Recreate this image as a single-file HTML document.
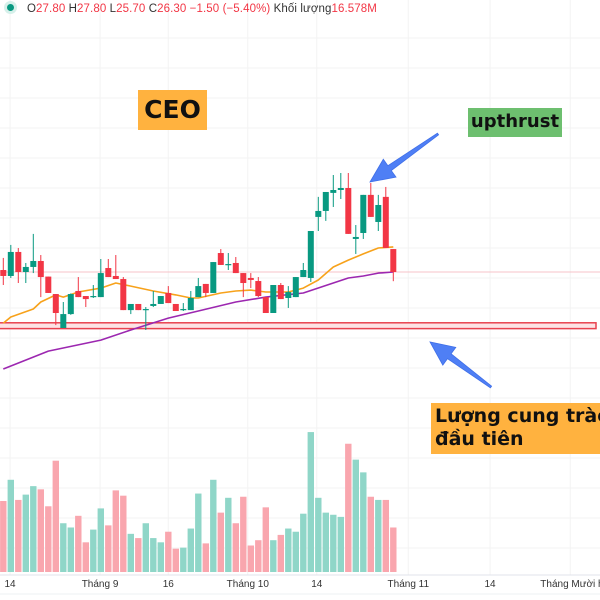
<!DOCTYPE html>
<html><head><meta charset="utf-8">
<style>
html,body{margin:0;padding:0;background:#fff;}
#wrap{position:relative;width:600px;height:600px;overflow:hidden;font-family:"Liberation Sans","DejaVu Sans",sans-serif;}
.lbl{position:absolute;font-weight:bold;color:#111;font-family:"DejaVu Sans","Liberation Sans",sans-serif;}
</style></head>
<body>
<div id="wrap">
<svg id="chart" width="600" height="600"></svg>
<div style="position:absolute;left:7px;top:3px;font-size:11.5px;white-space:nowrap;letter-spacing:0.1px;">
<span style="display:inline-block;width:7px;height:7px;border-radius:50%;background:#089981;box-shadow:0 0 0 3px #d6f0ea;margin-right:13px;vertical-align:1px"></span><span style="color:#333">O</span><span style="color:#f23645">27.80</span> <span style="color:#333">H</span><span style="color:#f23645">27.80</span> <span style="color:#333">L</span><span style="color:#f23645">25.70</span> <span style="color:#333">C</span><span style="color:#f23645">26.30</span> <span style="color:#f23645">−1.50 (−5.40%)</span> <span style="color:#333">Khối lượng</span><span style="color:#f23645">16.578M</span>
</div>
<div class="lbl" style="left:138px;top:90px;width:69px;height:40px;background:#ffb23f;font-size:25px;line-height:40px;text-align:center;">CEO</div>
<div class="lbl" style="left:468px;top:108px;width:94px;height:29px;background:#6dbf6f;font-size:18px;line-height:28px;text-align:center;">upthrust</div>
<div class="lbl" style="left:431px;top:403px;width:169px;height:51px;background:#ffb23f;font-size:19px;line-height:23px;padding:2px 0 0 4px;box-sizing:border-box;white-space:nowrap;">Lượng cung tràc<br>đầu tiên</div>
</div>
<script>
const opens =  [26.43,26.04,27.61,26.30,26.63,27.02,26.00,24.86,22.64,23.55,25.06,24.73,24.66,24.66,26.56,26.04,25.84,23.81,24.21,23.81,24.08,24.21,24.93,24.21,23.81,23.81,24.66,25.52,24.93,27.54,26.76,26.89,26.23,25.91,25.71,24.66,23.62,25.45,24.60,24.66,25.97,25.91,29.90,30.29,31.47,31.66,31.79,28.46,28.85,31.34,29.57,31.21,27.80];
const highs =  [27.22,28.07,27.87,26.89,28.79,27.41,26.00,24.86,24.34,24.90,25.97,24.73,25.45,27.15,27.15,27.41,25.97,24.21,24.21,24.01,25.06,24.73,25.38,24.21,24.27,25.06,25.91,25.52,26.95,27.80,27.54,27.28,26.23,26.23,25.97,24.66,25.45,25.58,25.38,25.97,26.89,28.98,31.21,31.53,32.64,32.77,32.77,29.37,31.34,32.12,31.34,31.86,27.80];
const lows =   [25.45,25.91,25.58,25.58,26.23,24.66,24.93,22.83,22.64,23.50,24.66,24.01,24.60,24.66,25.97,25.84,23.81,23.55,23.81,22.51,24.01,24.21,24.27,23.75,23.75,23.81,24.66,24.66,24.93,26.76,26.43,26.23,24.66,25.25,24.66,23.62,23.62,24.53,23.95,24.66,25.97,25.65,28.98,29.64,30.55,31.07,28.79,27.48,28.46,29.90,28.98,27.87,25.70];
const closes = [26.04,27.61,26.30,26.63,27.02,25.97,24.93,23.62,23.55,24.86,24.66,24.53,24.73,26.23,25.97,25.84,23.81,24.21,23.81,23.88,24.21,24.73,24.27,23.75,23.88,24.60,25.38,24.93,26.95,26.76,26.82,26.23,25.58,25.78,24.73,23.62,25.45,24.53,24.99,25.97,26.43,28.98,30.29,31.53,31.66,31.79,28.79,28.59,31.34,29.90,30.68,27.87,26.30];
const volumes = [6.7,8.7,6.8,7.3,8.1,7.8,6.2,10.5,4.6,4.2,5.3,2.8,4.0,6.0,4.4,7.7,7.2,3.6,3.2,4.6,3.2,2.8,3.8,2.2,2.3,4.1,7.4,2.7,8.7,5.6,7.0,4.6,7.1,2.5,3.0,6.1,3.0,3.5,4.1,3.8,5.5,13.2,7.0,5.6,5.4,5.2,12.1,10.6,9.4,7.1,6.8,6.8,4.2];
const maFastIdx = [0,1,4,5,7,8,10,13,15,17,20,23,25,26,29,31,33,35,38,40,42,44,46,48,50,52];
const maFastVal = [22.96,23.36,23.88,24.34,24.80,24.66,24.99,25.25,25.58,25.38,25.06,24.80,24.60,24.60,24.93,25.06,25.12,24.99,24.99,25.25,25.78,26.63,27.08,27.48,27.87,27.94];
const maSlowIdx = [0,6,13,17,22,26,31,35,40,44,46,48,50,52];
const maSlowVal = [19.96,21.13,21.85,22.51,23.29,23.75,24.34,24.66,24.93,25.58,25.91,26.04,26.23,26.30];
const supplyZone = [22.60, 22.98];
const xTickLabels = ["14","Tháng 9","16","Tháng 10","14","Tháng 11","14","Tháng Mười ha"];
const xTickPos = [0.9,12.9,22,32.6,41.8,54,64.9,75.6];
const GREEN="#089981", RED="#f23645", VGREEN="#8fd6c8", VRED="#f9a6ae";
const svg=document.getElementById('chart');
const NS="http://www.w3.org/2000/svg";
function xOf(i){return 3.3+i*7.5;}
function yOf(p){return 272-(p-26.3)*15.3;}
const VOL_BASE=572, VOL_SCALE=10.6;
function yVol(v){return VOL_BASE-v*VOL_SCALE;}
function mk(tag,attrs){const e=document.createElementNS(NS,tag);for(const k in attrs)e.setAttribute(k,attrs[k]);svg.appendChild(e);return e;}
for(let y=38;y<572;y+=30){const g=mk('line',{x1:0,x2:600,y1:y,y2:y,stroke:'#f3f3f3','stroke-width':1});

}
xTickPos.forEach(t=>{const g=mk('line',{x1:xOf(t),x2:xOf(t),y1:0,y2:575,stroke:'#f3f3f3','stroke-width':1});

});
volumes.forEach((v,i)=>{const up=closes[i]>=opens[i];const r=mk('rect',{x:xOf(i)-3.2,y:yVol(v),width:6.4,height:v*VOL_SCALE,fill:up?VGREEN:VRED});

});
const sz=mk('rect',{x:-1,y:yOf(supplyZone[1]),width:597,height:yOf(supplyZone[0])-yOf(supplyZone[1]),fill:'#fde3e5',stroke:'#e8424f','stroke-width':1.5});


const lp=mk('line',{x1:0,x2:600,y1:yOf(closes[closes.length-1]),y2:yOf(closes[closes.length-1]),stroke:'#f7c3c8','stroke-width':1});


function maPath(idx,val,color,name){const d=idx.map((t,k)=>(k?'L':'M')+xOf(t).toFixed(1)+','+yOf(val[k]).toFixed(1)).join(' ');
const p=mk('path',{d:d,fill:'none',stroke:color,'stroke-width':1.6,'stroke-linejoin':'round'});

}
maPath(maSlowIdx,maSlowVal,'#9c27b0','ma-slow-line');
maPath(maFastIdx,maFastVal,'#f7a21b','ma-fast-line');
opens.forEach((o,i)=>{const c=closes[i];const up=c>=o;const col=up?GREEN:RED;const x=xOf(i);
const w=mk('line',{x1:x,x2:x,y1:yOf(highs[i]),y2:yOf(lows[i]),stroke:col,'stroke-width':1});


const top=yOf(Math.max(o,c)),bot=yOf(Math.min(o,c));
const b=mk('rect',{x:x-3,y:top,width:6,height:Math.max(1.2,bot-top),fill:col});

});
function arrow(x1,y1,x2,y2,name){const dx=x2-x1,dy=y2-y1,L=Math.hypot(dx,dy),ux=dx/L,uy=dy/L,nx=-uy,ny=ux;
const hl=24,hw=11,sw=3;const bx=x2-ux*hl,by=y2-uy*hl;
const pts=[[x1+nx*1,y1+ny*1],[bx+nx*sw,by+ny*sw],[bx+nx*hw,by+ny*hw],[x2,y2],[bx-nx*hw,by-ny*hw],[bx-nx*sw,by-ny*sw],[x1-nx*1,y1-ny*1]];
const p=mk('polygon',{points:pts.map(q=>q[0].toFixed(1)+','+q[1].toFixed(1)).join(' '),fill:'#4f7ff5',stroke:'#3f6fe8','stroke-width':0.8});

}
arrow(438,134,370,182,'upthrust-arrow');
arrow(491,387,430,342,'supply-arrow');
const ax=mk('line',{x1:0,x2:600,y1:575,y2:575,stroke:'#e0e3eb','stroke-width':1});


xTickLabels.forEach((s,k)=>{const t=mk('text',{x:xOf(xTickPos[k]),y:587,'font-size':10,fill:'#333','text-anchor':k===7?'start':'middle','font-family':'Liberation Sans, sans-serif'});
if(k===7)t.setAttribute('x',xOf(xTickPos[k])-30);
t.textContent=s;

});
const bl=mk('line',{x1:0,x2:600,y1:594,y2:594,stroke:'#eef0f3','stroke-width':1});


</script>
</body></html>
